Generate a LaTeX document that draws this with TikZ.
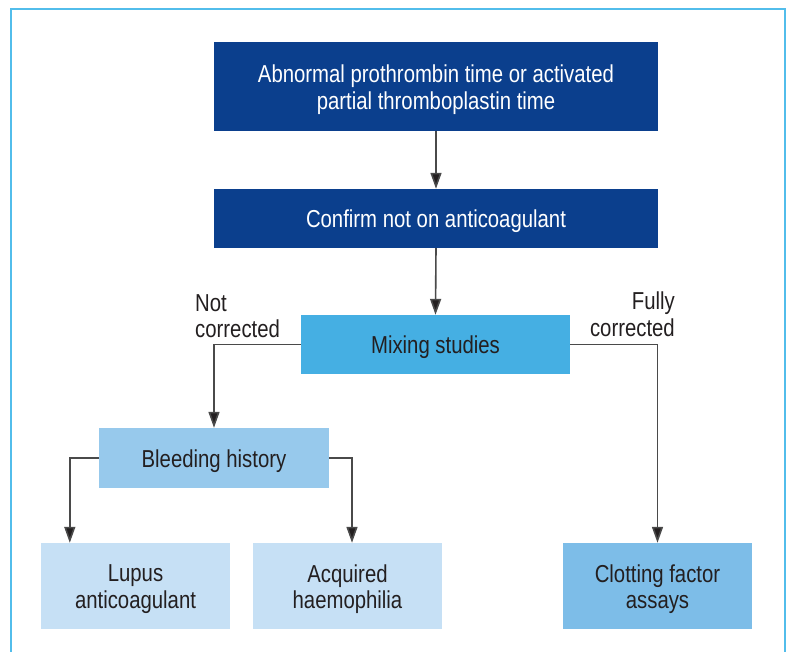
\documentclass[tikz,border=0pt]{standalone}
\usepackage{fontspec}
\setmainfont[FakeStretch=0.83]{Liberation Sans}
\usetikzlibrary{arrows.meta}
\definecolor{dblue}{HTML}{0B3F8D}
\definecolor{mixc}{HTML}{45AFE3}
\definecolor{bleedc}{HTML}{97C9EC}
\definecolor{lightc}{HTML}{C6E0F5}
\definecolor{clotc}{HTML}{7DBDE8}
\definecolor{framec}{HTML}{52BDEB}
\definecolor{txtc}{HTML}{231F20}
\definecolor{linec}{HTML}{4A4A4A}
\newcommand{\lowertxt}[1]{\raisebox{-3pt}[\height][\depth]{#1}}
\tikzset{
  box/.style={rectangle, inner sep=0pt, align=center, font=\fontsize{24.5}{26.5}\selectfont},
  darkbox/.style={box, fill=dblue, text=white},
  conn/.style={draw=linec, line width=1.6pt, -{Triangle[length=16pt,width=11pt,fill=txtc]}},
  lbl/.style={inner sep=0pt, text=txtc, font=\fontsize{24.5}{26.5}\selectfont}
}
\begin{document}
\begin{tikzpicture}[x=1pt,y=-1pt]
\useasboundingbox (0,0) rectangle (788,652);
\draw[framec, line width=2.5pt] (11,652) -- (11,9) -- (785,9) -- (785,652);

\node[darkbox, minimum width=444pt, minimum height=89pt] (abn) at (436,86.5)
  {\lowertxt{\parbox{430pt}{\centering Abnormal prothrombin time or activated\\partial thromboplastin time}}};
\node[darkbox, minimum width=444pt, minimum height=59pt] (conf) at (436,218.5)
  {\lowertxt{Confirm not on anticoagulant}};
\node[box, fill=mixc, text=txtc, minimum width=269pt, minimum height=59pt] (mix) at (435.5,344.5)
  {\lowertxt{Mixing studies}};
\node[box, fill=bleedc, text=txtc, minimum width=230pt, minimum height=60pt] (bleed) at (214,458)
  {\lowertxt{Bleeding history}};
\node[box, fill=lightc, text=txtc, minimum width=189pt, minimum height=86pt] (lupus) at (135.5,586)
  {\lowertxt{\parbox{180pt}{\centering Lupus\\anticoagulant}}};
\node[box, fill=lightc, text=txtc, minimum width=189pt, minimum height=86pt] (acq) at (347.5,586)
  {\lowertxt{\parbox{180pt}{\centering Acquired\\haemophilia}}};
\node[box, fill=clotc, text=txtc, minimum width=189pt, minimum height=86pt] (clot) at (657.5,586)
  {\lowertxt{\parbox{180pt}{\centering Clotting factor\\assays}}};

\node[lbl, anchor=north west, align=left] (notc) at (195,294) {Not\\corrected};
\node[lbl, anchor=north east, align=right] (fullc) at (675,291.7) {Fully\\corrected};

\draw[conn] (abn.south) -- (conf.north);
\draw[conn] (conf.south) -- (mix.north);
\draw[conn] (mix.west) -| (bleed.north);
\draw[conn] (mix.east) -| (clot.north);
\draw[conn] (bleed.west) -| ([xshift=29pt]lupus.north west);
\draw[conn] (bleed.east) -| ([xshift=4.5pt]acq.north);
\end{tikzpicture}
\end{document}
